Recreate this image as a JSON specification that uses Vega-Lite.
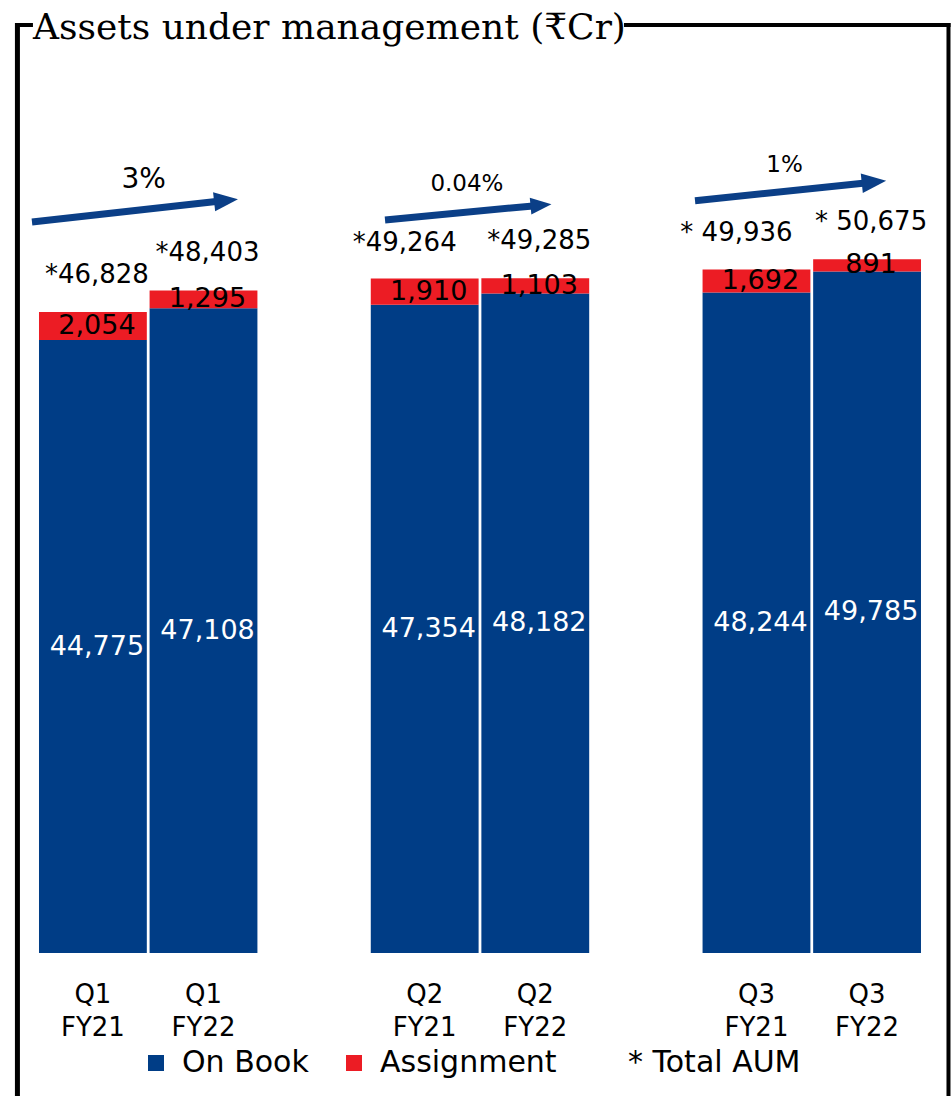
{
  "$schema": "https://vega.github.io/schema/vega-lite/v6.json",
  "width": 952,
  "height": 953,
  "autosize": "none",
  "padding": {"left": 0, "top": 0, "right": 0, "bottom": 143},
  "background": "white",
  "config": {"view": {"stroke": null}, "font": "DejaVu Sans"},
  "title": {
    "text": "Assets under management (₹Cr)",
    "font": "DejaVu Serif",
    "fontSize": 36,
    "fontWeight": "normal",
    "color": "black",
    "anchor": "start",
    "frame": "group",
    "orient": "top",
    "baseline": "alphabetic",
    "offset": 0,
    "dx": 33,
    "dy": 75
  },
  "datasets": {
    "aum": [
      {"period": "Q1 FY21", "series": "On Book", "value": 44775},
      {"period": "Q1 FY21", "series": "Assignment", "value": 2054},
      {"period": "Q1 FY22", "series": "On Book", "value": 47108},
      {"period": "Q1 FY22", "series": "Assignment", "value": 1295},
      {"period": "Q2 FY21", "series": "On Book", "value": 47354},
      {"period": "Q2 FY21", "series": "Assignment", "value": 1910},
      {"period": "Q2 FY22", "series": "On Book", "value": 48182},
      {"period": "Q2 FY22", "series": "Assignment", "value": 1103},
      {"period": "Q3 FY21", "series": "On Book", "value": 48244},
      {"period": "Q3 FY21", "series": "Assignment", "value": 1692},
      {"period": "Q3 FY22", "series": "On Book", "value": 49785},
      {"period": "Q3 FY22", "series": "Assignment", "value": 891}
    ],
    "totals": [
      {"period": "Q1 FY21", "total": 46828, "label": "*46,828"},
      {"period": "Q1 FY22", "total": 48403, "label": "*48,403"},
      {"period": "Q2 FY21", "total": 49264, "label": "*49,264"},
      {"period": "Q2 FY22", "total": 49285, "label": "*49,285"},
      {"period": "Q3 FY21", "total": 49936, "label": "* 49,936"},
      {"period": "Q3 FY22", "total": 50675, "label": "* 50,675"}
    ]
  },
  "layer": [
    {
      "data": {"name": "aum"},
      "mark": {"type": "bar"},
      "encoding": {
        "x": {
          "field": "period",
          "type": "nominal",
          "title": null,
          "scale": {
            "domain": ["Q1 FY21", "Q1 FY22", "gap1", "Q2 FY21", "Q2 FY22", "gap2", "Q3 FY21", "Q3 FY22"],
            "paddingInner": 0.025,
            "paddingOuter": 0.3165,
            "align": 0.557
          },
          "axis": null
        },
        "y": {
          "field": "value",
          "type": "quantitative",
          "stack": "zero",
          "scale": {"domain": [0, 69617], "nice": false, "zero": false},
          "axis": null
        },
        "order": {"field": "series", "sort": "descending"},
        "color": {
          "field": "series",
          "type": "nominal",
          "scale": {
            "domain": ["On Book", "Assignment", "* Total AUM"],
            "range": ["#003D86", "#EC1C24", "rgba(255,255,255,0)"]
          },
          "legend": {
            "orient": "none",
            "legendX": 141,
            "legendY": 1048,
            "direction": "horizontal",
            "title": null,
            "padding": 0,
            "symbolType": "square",
            "symbolSize": 256,
            "symbolStrokeWidth": 0,
            "labelFont": "DejaVu Sans",
            "labelFontSize": 30,
            "labelColor": "black",
            "labelOffset": 11,
            "columnPadding": 30,
            "labelLimit": 400
          }
        }
      }
    },
    {
      "data": {"name": "totals"},
      "mark": {"type": "text", "fontSize": 26, "font": "DejaVu Sans", "baseline": "top", "lineBreak": " ", "lineHeight": 33, "dy": 29, "color": "black"},
      "encoding": {
        "x": {"field": "period", "type": "nominal", "axis": null},
        "y": {"datum": 0, "type": "quantitative", "axis": null},
        "text": {"field": "period", "type": "nominal"}
      }
    },
    {
      "data": {"name": "aum"},
      "transform": [
        {"stack": "value", "groupby": ["period"], "sort": [{"field": "series", "order": "descending"}], "as": ["v0", "v1"]},
        {"calculate": "(datum.v0 + datum.v1) / 2", "as": "mid"}
      ],
      "mark": {"type": "text", "fontSize": 27, "font": "DejaVu Sans", "baseline": "middle", "dx": 4},
      "encoding": {
        "x": {"field": "period", "type": "nominal", "axis": null},
        "y": {"field": "mid", "type": "quantitative", "axis": null},
        "text": {"field": "value", "type": "quantitative", "format": ",d"},
        "color": {"condition": {"test": "datum.series == 'On Book'", "value": "white"}, "value": "black"}
      }
    },
    {
      "data": {"name": "totals"},
      "transform": [{"filter": "datum.period != 'Q2 FY21' && datum.period != 'Q3 FY21'"}],
      "mark": {"type": "text", "fontSize": 26, "font": "DejaVu Sans", "baseline": "middle", "dx": 4, "dy": -37, "color": "black"},
      "encoding": {
        "x": {"field": "period", "type": "nominal", "axis": null},
        "y": {"field": "total", "type": "quantitative", "axis": null},
        "text": {"field": "label", "type": "nominal"}
      }
    },
    {
      "data": {"name": "totals"},
      "transform": [{"filter": "datum.period == 'Q2 FY21' || datum.period == 'Q3 FY21'"}],
      "mark": {"type": "text", "fontSize": 26, "font": "DejaVu Sans", "baseline": "middle", "dx": -20, "dy": -36, "color": "black"},
      "encoding": {
        "x": {"field": "period", "type": "nominal", "axis": null},
        "y": {"field": "total", "type": "quantitative", "axis": null},
        "text": {"field": "label", "type": "nominal"}
      }
    },
    {
      "data": {"values": [{"from": "Q1 FY21", "to": "Q1 FY22", "growth": "3%"}]},
      "layer": [
        {
          "mark": {"type": "rule", "strokeWidth": 7, "color": "#0B3F87", "strokeCap": "butt"},
          "encoding": {
            "x": {"field": "from", "type": "nominal", "bandPosition": -0.065, "axis": null},
            "x2": {"field": "to", "bandPosition": 0.616},
            "y": {"datum": 53400, "type": "quantitative", "axis": null},
            "y2": {"datum": 54897}
          }
        },
        {
          "mark": {"type": "point", "shape": "M-1,-0.8L1,0L-1,0.8Z", "filled": true, "size": 576, "angle": 353.7, "color": "#0B3F87", "opacity": 1, "strokeWidth": 0},
          "encoding": {
            "x": {"field": "to", "type": "nominal", "bandPosition": 0.709, "axis": null},
            "y": {"datum": 54970, "type": "quantitative", "axis": null}
          }
        },
        {
          "mark": {"type": "text", "fontSize": 28, "font": "DejaVu Sans", "baseline": "middle", "color": "black"},
          "encoding": {
            "x": {"field": "from", "type": "nominal", "bandPosition": 0.971, "axis": null},
            "y": {"datum": 56468, "type": "quantitative", "axis": null},
            "text": {"field": "growth", "type": "nominal"}
          }
        }
      ]
    },
    {
      "data": {"values": [{"from": "Q2 FY21", "to": "Q2 FY22", "growth": "0.04%"}]},
      "layer": [
        {
          "mark": {"type": "rule", "strokeWidth": 7, "color": "#0B3F87", "strokeCap": "butt"},
          "encoding": {
            "x": {"field": "from", "type": "nominal", "bandPosition": 0.132, "axis": null},
            "x2": {"field": "to", "bandPosition": 0.479},
            "y": {"datum": 53546, "type": "quantitative", "axis": null},
            "y2": {"datum": 54576}
          }
        },
        {
          "mark": {"type": "point", "shape": "M-1,-0.8L1,0L-1,0.8Z", "filled": true, "size": 440, "angle": 354.6, "color": "#0B3F87", "opacity": 1, "strokeWidth": 0},
          "encoding": {
            "x": {"field": "to", "type": "nominal", "bandPosition": 0.553, "axis": null},
            "y": {"datum": 54627, "type": "quantitative", "axis": null}
          }
        },
        {
          "mark": {"type": "text", "fontSize": 23, "font": "DejaVu Sans", "baseline": "middle", "color": "black"},
          "encoding": {
            "x": {"field": "to", "type": "nominal", "bandPosition": -0.134, "axis": null},
            "y": {"datum": 56175, "type": "quantitative", "axis": null},
            "text": {"field": "growth", "type": "nominal"}
          }
        }
      ]
    },
    {
      "data": {"values": [{"from": "Q3 FY21", "to": "Q3 FY22", "growth": "1%"}]},
      "layer": [
        {
          "mark": {"type": "rule", "strokeWidth": 7, "color": "#0B3F87", "strokeCap": "butt"},
          "encoding": {
            "x": {"field": "from", "type": "nominal", "bandPosition": -0.07, "axis": null},
            "x2": {"field": "to", "bandPosition": 0.462},
            "y": {"datum": 54955, "type": "quantitative", "axis": null},
            "y2": {"datum": 56233}
          }
        },
        {
          "mark": {"type": "point", "shape": "M-1,-0.8L1,0L-1,0.8Z", "filled": true, "size": 600, "angle": 354, "color": "#0B3F87", "opacity": 1, "strokeWidth": 0},
          "encoding": {
            "x": {"field": "to", "type": "nominal", "bandPosition": 0.564, "axis": null},
            "y": {"datum": 56321, "type": "quantitative", "axis": null}
          }
        },
        {
          "mark": {"type": "text", "fontSize": 23, "font": "DejaVu Sans", "baseline": "middle", "color": "black"},
          "encoding": {
            "x": {"field": "from", "type": "nominal", "bandPosition": 0.76, "axis": null},
            "y": {"datum": 57563, "type": "quantitative", "axis": null},
            "text": {"field": "growth", "type": "nominal"}
          }
        }
      ]
    },
    {
      "data": {"values": [{}]},
      "mark": {"type": "rule", "strokeWidth": 5, "color": "black", "strokeCap": "butt"},
      "encoding": {
        "x": {"datum": "Q1 FY21", "type": "nominal", "bandPosition": -0.2, "axis": null},
        "y": {"datum": 67937, "type": "quantitative", "axis": null},
        "y2": {"datum": -10446}
      }
    },
    {
      "data": {"values": [{}]},
      "mark": {"type": "rule", "strokeWidth": 4, "color": "black", "strokeCap": "butt"},
      "encoding": {
        "x": {"datum": "Q3 FY22", "type": "nominal", "bandPosition": 1.255, "axis": null},
        "y": {"datum": 67937, "type": "quantitative", "axis": null},
        "y2": {"datum": -10446}
      }
    },
    {
      "data": {"values": [{"a": "Q1 FY21", "b": "Q1 FY21"}]},
      "mark": {"type": "rule", "strokeWidth": 4, "color": "black", "strokeCap": "butt"},
      "encoding": {
        "x": {"field": "a", "type": "nominal", "bandPosition": -0.222, "axis": null},
        "x2": {"field": "b", "bandPosition": -0.056},
        "y": {"datum": 67790, "type": "quantitative", "axis": null}
      }
    },
    {
      "data": {"values": [{"a": "Q3 FY21", "b": "Q3 FY22"}]},
      "mark": {"type": "rule", "strokeWidth": 4, "color": "black", "strokeCap": "butt"},
      "encoding": {
        "x": {"field": "a", "type": "nominal", "bandPosition": -0.729, "axis": null},
        "x2": {"field": "b", "bandPosition": 1.274},
        "y": {"datum": 67790, "type": "quantitative", "axis": null}
      }
    }
  ]
}
